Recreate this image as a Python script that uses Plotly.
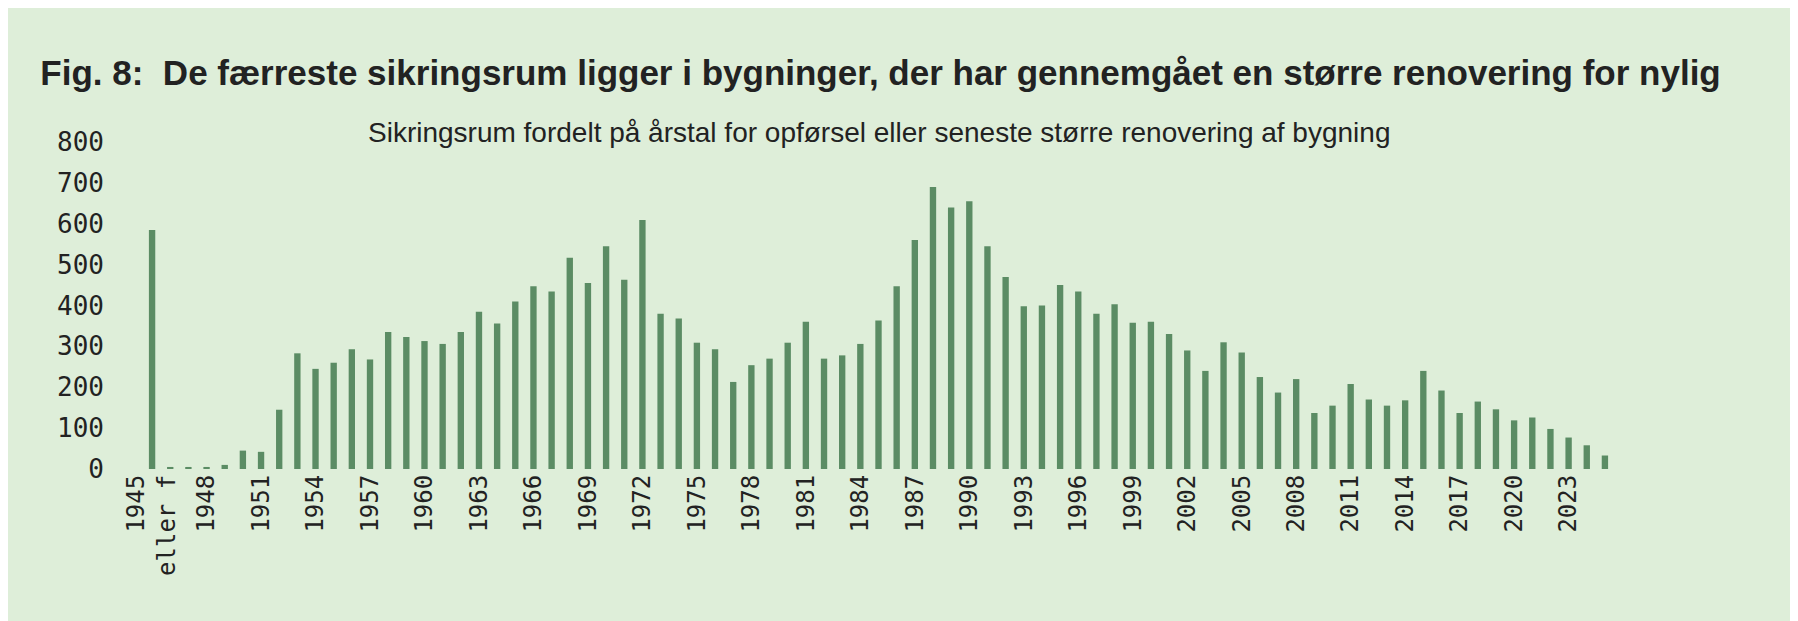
import plotly.graph_objects as go

years = ["1945 eller før"] + [str(y) for y in range(1946, 2026)]
values = [585, 5, 5, 5, 10, 45, 42, 145, 283, 245, 260, 293, 268, 335, 323, 313, 306, 335,
          385, 356, 410, 447, 434, 517, 455, 545, 463, 609, 380, 368, 309, 293, 213, 254,
          270, 309, 360, 270, 278, 306, 363, 447, 560, 690, 640, 655, 545, 470, 398, 400,
          450, 434, 380, 403, 358, 360, 330, 290, 240, 310, 285, 225, 187, 220, 137, 155,
          208, 170, 155, 168, 240, 192, 137, 165, 146, 119, 126, 98, 77, 58, 33]
tick_vals = years[::3]
tick_text = ["1945<br>eller f"] + tick_vals[1:]

BG = "#deeed9"

fig = go.Figure(go.Bar(x=years, y=values, marker_color="#5b8c64", marker_line_width=0))

fig.update_layout(
    width=1798, height=621,
    paper_bgcolor=BG, plot_bgcolor=BG,
    margin=dict(l=135, r=192, t=134, b=160),
    bargap=0.65,
    showlegend=False,
    title=dict(text="<b>Fig. 8:  De færreste sikringsrum ligger i bygninger, der har gennemgået en større renovering for nylig</b>",
               x=0.018, xanchor="left", y=0.895, yanchor="middle",
               font=dict(family="Liberation Sans Narrow, Arial Narrow, sans-serif", size=35, color="#222222")),
    font=dict(family="DejaVu Sans Mono, monospace", color="#222222"),
)
fig.add_annotation(text="Sikringsrum fordelt på årstal for opførsel eller seneste større renovering af bygning",
                   xref="paper", yref="paper", x=0.5, y=1.03, xanchor="center", yanchor="middle",
                   showarrow=False,
                   font=dict(family="Liberation Sans Narrow, Arial Narrow, sans-serif", size=28, color="#222222"))
fig.update_xaxes(type="category", tickmode="array", tickvals=tick_vals, ticktext=tick_text,
                 tickangle=-90, tickfont=dict(size=24), showgrid=False, showline=False, ticks="")
fig.update_yaxes(range=[0, 800], tickvals=list(range(0, 801, 100)), tickfont=dict(size=26),
                 ticklabelstandoff=38, showgrid=False, zeroline=False, showline=False, ticks="")

fig.write_html("out.html")
